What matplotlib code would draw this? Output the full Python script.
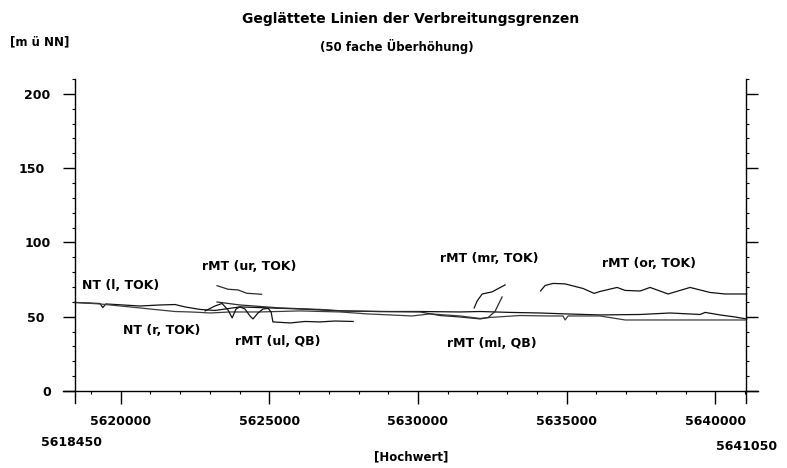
import matplotlib
matplotlib.use("Agg")
import matplotlib.pyplot as plt
from matplotlib.ticker import FixedLocator, MultipleLocator, NullFormatter

# ---------------- data ----------------
nt_l_x = [5618450, 5619300, 5619400, 5619500, 5620650, 5621320, 5621830, 5622160, 5622670,
          5623170, 5624010, 5625020, 5626030, 5627380, 5628720, 5630070, 5631420, 5632090,
          5633100, 5634110, 5634950, 5636120, 5637470, 5638480, 5639490, 5639660, 5640160,
          5640670, 5641050]
nt_l_y = [59.6, 58.9, 56.2, 58.6, 57.2, 57.9, 58.2, 56.6, 54.9,
          54.2, 56.6, 55.9, 55.2, 53.9, 53.5, 53.5, 53.2, 53.5,
          52.9, 52.5, 51.9, 51.2, 51.5, 52.5, 51.5, 52.9, 51.2,
          49.8, 48.5]

nt_r_x = [5618450, 5619300, 5620650, 5621320, 5621830, 5622330, 5622670, 5623000, 5623680,
          5624690, 5626030, 5627380, 5628290, 5629060, 5629800, 5630410, 5631420, 5632090,
          5632420, 5633430, 5634440, 5634880, 5634950, 5635050, 5636120, 5636970, 5641050]
nt_r_y = [59.6, 58.6, 55.9, 54.5, 53.5, 53.2, 52.9, 52.5, 53.2,
          53.2, 53.9, 53.2, 51.9, 51.2, 50.5, 51.9, 50.5, 48.8,
          49.5, 50.8, 50.5, 50.5, 47.8, 50.5, 50.5, 47.8, 47.8]

rmt_ml_x = [5623240, 5624010, 5625360, 5626700, 5627480, 5628720, 5630070, 5630740,
            5631420, 5632090, 5632360, 5632590, 5632730, 5632830]
rmt_ml_y = [59.9, 57.9, 55.9, 54.9, 53.9, 53.5, 53.2, 50.8,
            49.8, 48.5, 49.5, 53.5, 59.3, 63.3]

rmt_mr_x = [5631890, 5631990, 5632160, 5632490, 5632930]
rmt_mr_y = [55.9, 60.6, 65.3, 66.7, 71.4]

rmt_ur_x = [5623240, 5623610, 5623950, 5624240, 5624740]
rmt_ur_y = [70.9, 68.5, 68.0, 65.8, 65.1]

rmt_ul_x = [5622840, 5623170, 5623410, 5623610, 5623750, 5623880, 5624010, 5624180, 5624350,
            5624450, 5624620, 5624790, 5624960, 5625060, 5625120, 5625700, 5626200, 5626700,
            5627210, 5627820]
rmt_ul_y = [53.9, 57.2, 58.9, 54.5, 49.2, 55.2, 56.6, 55.2, 50.5,
            48.5, 52.5, 55.2, 55.6, 53.2, 46.5, 45.8, 46.8, 46.5,
            47.1, 46.8]

rmt_or_x = [5634120, 5634275, 5634544, 5634948, 5635553, 5635924, 5636125, 5636697, 5636966,
            5637471, 5637807, 5638413, 5639153, 5639826, 5640330, 5641050]
rmt_or_y = [67.3, 71.0, 72.4, 72.1, 69.0, 65.7, 67.0, 69.7, 67.7,
            67.3, 69.7, 65.3, 69.7, 66.3, 65.3, 65.3]

labels = ["NT (l, TOK)", "rMT (ur, TOK)", "NT (r, TOK)", "rMT (ul, QB)",
          "rMT (mr, TOK)", "rMT (or, TOK)", "rMT (ml, QB)"]
label_x = [5618690, 5622730, 5620090, 5623850, 5630740, 5636180, 5630970]
label_y = [70.7, 83.7, 40.4, 33.3, 88.9, 85.5, 32.3]

x_start, x_end = 5618450, 5641050
x_major = [5620000, 5625000, 5630000, 5635000, 5640000]
y_major = [0, 50, 100, 150, 200]

# ---------------- figure ----------------
plt.rcParams["font.family"] = "DejaVu Sans"
plt.rcParams["font.weight"] = "bold"

fig = plt.figure(figsize=(7.87, 4.68), dpi=100)
ax = fig.add_axes([63 / 787, 65 / 468, 695 / 787, 324 / 468])
ax.set_xlim(5618060, 5641437)
ax.set_ylim(-8.08, 210)

series = [
    (nt_l_x, nt_l_y, "#111111"),
    (nt_r_x, nt_r_y, "#3c3c3c"),
    (rmt_ml_x, rmt_ml_y, "#2a2a2a"),
    (rmt_mr_x, rmt_mr_y, "#111111"),
    (rmt_ur_x, rmt_ur_y, "#2a2a2a"),
    (rmt_ul_x, rmt_ul_y, "#111111"),
    (rmt_or_x, rmt_or_y, "#111111"),
]
for xs, ys, c in series:
    ax.plot(xs, ys, color=c, lw=0.9, solid_joinstyle="round")

for s, lx, ly in zip(labels, label_x, label_y):
    ax.text(lx, ly, s, ha="left", va="center", fontsize=9, fontweight="bold")

# spines
ax.spines["top"].set_visible(False)
ax.spines["left"].set_position(("data", x_start))
ax.spines["right"].set_position(("data", x_end))
ax.spines["bottom"].set_position(("data", 0))
for sp in ("left", "right", "bottom"):
    ax.spines[sp].set_linewidth(1.0)
    ax.spines[sp].set_color("black")

# y ticks
ax.yaxis.set_major_locator(FixedLocator(y_major))
ax.yaxis.set_minor_locator(MultipleLocator(10))
ax.yaxis.set_ticks_position("both")
ax.tick_params(axis="y", which="major", direction="out", length=8.6, width=1.0,
               labelsize=9, pad=8.6, left=True, right=True, labelleft=True, labelright=False)
ax.tick_params(axis="y", which="minor", direction="out", length=2.0, width=0.8,
               left=True, right=True)
ax.set_yticklabels([str(v) for v in y_major], fontweight="bold")
for t, v in zip(ax.yaxis.get_major_ticks(), y_major):
    if v in (50, 150):
        t.tick1line.set_markersize(4.3)
        t.tick2line.set_markersize(4.3)
        t.set_pad(13.0)

# x ticks
ax.xaxis.set_major_locator(FixedLocator(x_major))
ax.xaxis.set_minor_locator(FixedLocator(list(range(5619000, 5641001, 1000))))
ax.xaxis.set_minor_formatter(NullFormatter())
ax.tick_params(axis="x", which="major", direction="out", length=9.4, width=1.0,
               labelsize=9, pad=8.0, top=False)
ax.tick_params(axis="x", which="minor", direction="out", length=2.2, width=0.8, top=False)
ax.set_xticklabels([str(v) for v in x_major], fontweight="bold")

# end labels of the x range
ax.annotate(str(x_start), xy=(x_start, 0), xycoords=("data", "axes fraction"),
            xytext=(-3, -40), textcoords="offset pixels", ha="center", va="center",
            fontsize=9, fontweight="bold")
ax.annotate(str(x_end), xy=(x_end, 0), xycoords=("data", "axes fraction"),
            xytext=(0, -43), textcoords="offset pixels", ha="center", va="center",
            fontsize=9, fontweight="bold")

# titles and axis labels (figure pixel coordinates)
fig.text(411 / 787, 1 - 19 / 468, "Geglättete Linien der Verbreitungsgrenzen",
         ha="center", va="center", fontsize=10, fontweight="bold")
fig.text(397 / 787, 1 - 46 / 468, "(50 fache Überhöhung)",
         ha="center", va="center", fontsize=8.5, fontweight="bold")
fig.text(40 / 787, 1 - 42 / 468, "[m ü NN]",
         ha="center", va="center", fontsize=8.5, fontweight="bold")
fig.text(411 / 787, 1 - 457 / 468, "[Hochwert]",
         ha="center", va="center", fontsize=8.5, fontweight="bold")

fig.savefig("out.png", dpi=100)
